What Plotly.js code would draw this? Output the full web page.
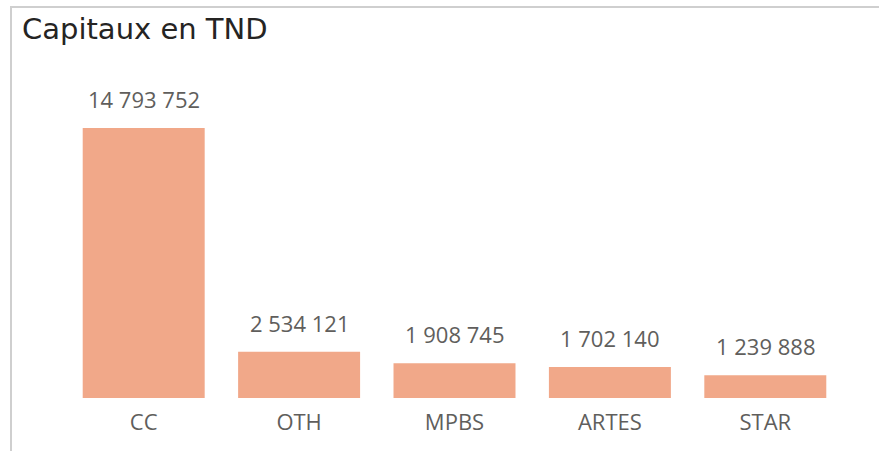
<!DOCTYPE html>
<html><head><meta charset="utf-8">
<script src="https://cdn.plot.ly/plotly-3.0.1.min.js"></script>
<style>
html,body{margin:0;padding:0;background:#fff;}
#wrap{position:relative;width:879px;height:451px;}
#chart{width:879px;height:451px;}
#frame{position:absolute;left:10px;top:6px;width:880px;height:460px;border-left:2px solid #cfcfcf;border-top:2px solid #cfcfcf;pointer-events:none;}
</style></head>
<body><div id="wrap"><div id="chart"></div><div id="frame"></div></div>
<script>
const categories = ["CC", "OTH", "MPBS", "ARTES", "STAR"];
const capitaux = [14793752, 2534121, 1908745, 1702140, 1239888];

function fmt(v){ return String(Math.round(v)).replace(/\B(?=(\d{3})+(?!\d))/g, " "); }

const trace = {
  type: "bar",
  x: categories,
  y: capitaux,
  marker: {color: "#F1A889"},
  hoverinfo: "none"
};

const annotations = categories.map((c, i) => ({
  x: c, y: capitaux[i], xref: "x", yref: "y",
  text: fmt(capitaux[i]), showarrow: false,
  yanchor: "bottom", yshift: 12,
  font: {family: "Open Sans", size: 22, color: "#605E5C"}
}));

const layout = {
  width: 879, height: 451,
  margin: {l: 66, r: 36, t: 128, b: 53},
  paper_bgcolor: "#fff", plot_bgcolor: "#fff",
  bargap: 0.215,
  showlegend: false,
  title: {
    text: "Capitaux en TND",
    font: {family: "DejaVu Sans", size: 29, color: "#252423"},
    xref: "container", yref: "container",
    x: 22/879, xanchor: "left",
    y: 1 - 29/451, yanchor: "middle"
  },
  xaxis: {
    showgrid: false, zeroline: false, showline: false, ticks: "",
    ticklabelstandoff: 9,
    tickfont: {family: "Open Sans", size: 22, color: "#605E5C"},
    fixedrange: true
  },
  yaxis: {
    visible: false, range: [0, 14793752], showgrid: false, zeroline: false,
    fixedrange: true
  },
  annotations: annotations
};

Plotly.newPlot("chart", [trace], layout, {displayModeBar: false, staticPlot: true});
</script></body></html>
